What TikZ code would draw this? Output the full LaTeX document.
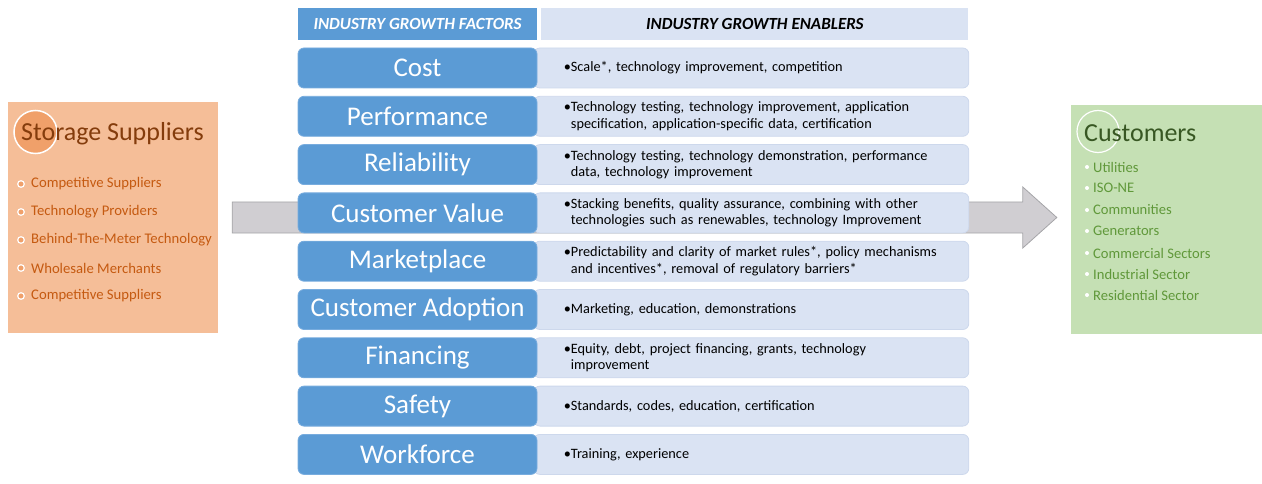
\documentclass[tikz,border=0pt]{standalone}
\usepackage{fontspec}
\setmainfont{Carlito}
\usepackage{tikz}
\usetikzlibrary{
    positioning,
    backgrounds,
    calc
}
\definecolor{Bmid}{RGB}{91, 155, 213}
\definecolor{Bedge}{RGB}{120, 172, 222}
\definecolor{Blight}{RGB}{218, 227, 243}
\definecolor{Ledge}{RGB}{205, 216, 236}
\definecolor{Ofill}{RGB}{245, 190, 152}
\definecolor{Ocirc}{RGB}{240, 160, 106}
\definecolor{Otitle}{RGB}{132, 60, 12}
\definecolor{Otext}{RGB}{197, 90, 17}
\definecolor{Gfill}{RGB}{197, 224, 180}
\definecolor{Gtitle}{RGB}{56, 87, 35}
\definecolor{Gtext}{RGB}{96, 152, 58}
\definecolor{Afill}{RGB}{208, 206, 210}
\definecolor{Aedge}{RGB}{165, 165, 168}
\tikzset{
    factor/.style={
        rectangle, rounded corners=6pt, draw=Bedge, line width=0.8pt,
        fill=Bmid, text=white, minimum width=239pt, minimum height=40pt,
        inner sep=0pt, font=\fontsize{27}{30}\selectfont
    },
    enabler/.style={
        rectangle, rounded corners=6pt, draw=Ledge, line width=0.8pt,
        fill=Blight, text=black, minimum height=40pt, text width=375pt,
        inner xsep=30pt, inner ysep=0pt, align=left,
        font=\fontsize{14.3}{16.5}\selectfont
    },
    hdr/.style={
        rectangle, minimum height=32pt, inner sep=0pt,
        font=\fontsize{17}{20}\selectfont\bfseries\itshape
    },
    sidebox/.style={rectangle, minimum width=#1, inner sep=0pt},
    sidetitle/.style={anchor=west, inner sep=0pt, font=\fontsize{26}{30}\selectfont},
    sitem/.style={anchor=west, inner sep=0pt, text=Otext, font=\fontsize{14.7}{17}\selectfont},
    citem/.style={anchor=west, inner sep=0pt, text=Gtext, font=\fontsize{14.6}{17}\selectfont},
}

\begin{document}
\begin{tikzpicture}[x=1pt, y=-1pt]
    \useasboundingbox (0,0) rectangle (1262,484);

    % ── 左侧：Storage Suppliers ────────────────────────────
    \node [sidebox=210pt, minimum height=231pt, fill=Ofill] (suppliers) at (113,217.5) {};
    \node [circle, minimum size=43pt, inner sep=0pt, fill=Ocirc, draw=white, line width=1.5pt]
        (scircle) at (35.5,132) {};
    \node [sidetitle, text=Otitle] (stitle) at (21,134) {Storage Suppliers};
    \node [sitem] (s1) at (31,184) {Competitive Suppliers};
    \node [sitem] (s2) at (31,212) {Technology Providers};
    \node [sitem] (s3) at (31,240) {Behind-The-Meter Technology};
    \node [sitem] (s4) at (31,268) {Wholesale Merchants};
    \node [sitem] (s5) at (31,296) {Competitive Suppliers};
    \foreach \s in {s1,s2,s3,s4,s5}
        \filldraw [fill=Ocirc, draw=white, line width=1.2pt] ($(\s.west)+(-10,0)$) circle (3.3pt);

    % ── 右侧：Customers ────────────────────────────────────
    \node [sidebox=191pt, minimum height=229pt, fill=Gfill] (customers) at (1166.5,219.5) {};
    \node [circle, minimum size=42pt, inner sep=0pt, draw=white, line width=1.2pt]
        (ccircle) at (1098,131.5) {};
    \node [sidetitle, text=Gtitle] (ctitle) at (1084,133) {Customers};
    \node [citem] (c1) at (1093,167) {Utilities};
    \node [citem] (c2) at (1093,188) {ISO-NE};
    \node [citem] (c3) at (1093,210) {Communities};
    \node [citem] (c4) at (1093,231) {Generators};
    \node [citem] (c5) at (1093,253) {Commercial Sectors};
    \node [citem] (c6) at (1093,274) {Industrial Sector};
    \node [citem] (c7) at (1093,295) {Residential Sector};
    \foreach \c in {c1,c2,c3,c4,c5,c6,c7}
        \fill [white] ($(\c.west)+(-6,0)$) circle (2pt);

    % ── 表头 ───────────────────────────────────────────────
    \node [hdr, minimum width=239pt, fill=Bmid, text=white] (hfactors) at (417.5,24)
        {INDUSTRY GROWTH FACTORS};
    \node [hdr, minimum width=427pt, fill=Blight, text=black, right=4pt of hfactors]
        (henablers) {INDUSTRY GROWTH ENABLERS};

    % ── 左列：增长因素 ─────────────────────────────────────
    \node [factor] (cost) at (417.5,68) {Cost};
    \node [factor, below=7.5pt of cost] (performance) {Performance};
    \node [factor, below=7.5pt of performance] (reliability) {Reliability};
    \node [factor, below=7.5pt of reliability] (value) {Customer Value};
    \node [factor, below=7.5pt of value] (marketplace) {Marketplace};
    \node [factor, below=7.5pt of marketplace] (adoption) {Customer Adoption};
    \node [factor, below=7.5pt of adoption] (financing) {Financing};
    \node [factor, below=7.5pt of financing] (safety) {Safety};
    \node [factor, below=7.5pt of safety] (workforce) {Workforce};

    % ── 背景层：大箭头，再放右列（左端藏在蓝框下）────────
    \begin{scope}[on background layer]
        \coordinate (arrtail) at ($(suppliers.east)+(14,0)$);
        \coordinate (arrtip) at ($(customers.west)+(-14,-2)$);
        \filldraw [fill=Afill, draw=Aedge, line width=0.8pt]
            ($(arrtail)+(0,-15.5)$) -- ($(arrtip|-arrtail)+(-34,-15.5)$)
            -- ($(arrtip|-arrtail)+(-34,-30.5)$) -- (arrtip|-arrtail)
            -- ($(arrtip|-arrtail)+(-34,30.5)$) -- ($(arrtip|-arrtail)+(-34,15.5)$)
            -- ($(arrtail)+(0,15.5)$) -- cycle;

        \node [enabler, right=-4pt of cost] (ecost)
            {•Scale*, technology improvement, competition};
        \node [enabler, right=-4pt of performance] (eperformance)
            {•Technology testing, technology improvement, application\\
             \hphantom{•}specification, application-specific data, certification};
        \node [enabler, right=-4pt of reliability] (ereliability)
            {•Technology testing, technology demonstration, performance\\
             \hphantom{•}data, technology improvement};
        \node [enabler, right=-4pt of value] (evalue)
            {•Stacking benefits, quality assurance, combining with other\\
             \hphantom{•}technologies such as renewables, technology Improvement};
        \node [enabler, right=-4pt of marketplace] (emarketplace)
            {•Predictability and clarity of market rules*, policy mechanisms\\
             \hphantom{•}and incentives*, removal of regulatory barriers*};
        \node [enabler, right=-4pt of adoption] (eadoption)
            {•Marketing, education, demonstrations};
        \node [enabler, right=-4pt of financing] (efinancing)
            {•Equity, debt, project financing, grants, technology\\
             \hphantom{•}improvement};
        \node [enabler, right=-4pt of safety] (esafety)
            {•Standards, codes, education, certification};
        \node [enabler, right=-4pt of workforce] (eworkforce)
            {•Training, experience};
    \end{scope}

\end{tikzpicture}
\end{document}
